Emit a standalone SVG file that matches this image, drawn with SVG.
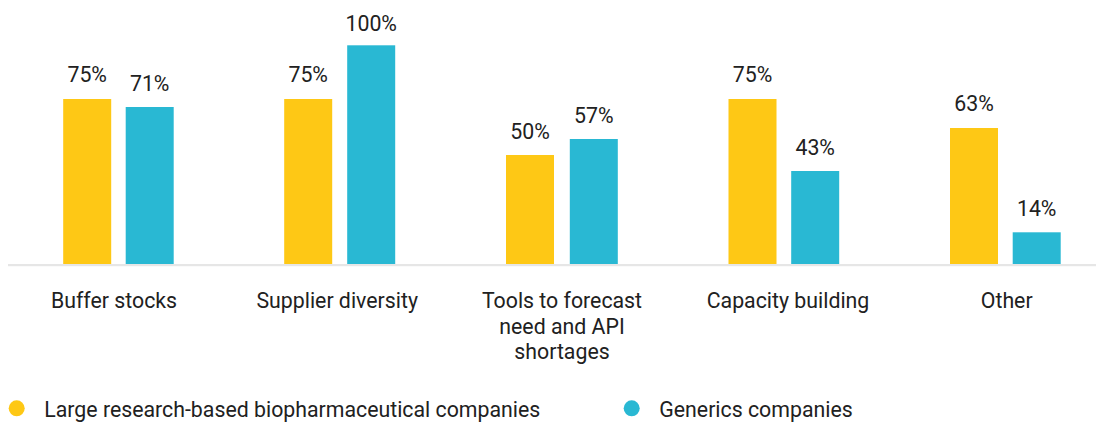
<svg xmlns="http://www.w3.org/2000/svg" width="1103" height="423" viewBox="0 0 1103 423">
<style>
text{font-family:Roboto,"Liberation Sans",sans-serif;font-size:21.3px;fill:#212121}
.v{text-anchor:middle}
.c{text-anchor:middle}
.y{fill:#FEC815}
.b{fill:#29B8D3}
</style>
<rect width="1103" height="423" fill="#fff"/>
<rect x="8" y="264" width="1088" height="2.2" fill="#e6e6e6"/>
<g id="buffer-stocks">
<rect class="y" x="63.2" y="99" width="48" height="165"/>
<rect class="b" x="125.7" y="107" width="48" height="157"/>
<text class="v" x="87.2" y="82">75%</text>
<text class="v" x="149.7" y="90.5">71%</text>
<text class="c" x="114" y="308">Buffer stocks</text>
</g>
<g id="supplier-diversity">
<rect class="y" x="284.2" y="99" width="48" height="165"/>
<rect class="b" x="347.2" y="45.3" width="48" height="218.7"/>
<text class="v" x="308.2" y="82">75%</text>
<text class="v" x="371.2" y="30.5">100%</text>
<text class="c" x="337.2" y="308">Supplier diversity</text>
</g>
<g id="tools-to-forecast">
<rect class="y" x="506" y="155" width="48" height="109"/>
<rect class="b" x="569.8" y="139" width="48" height="125"/>
<text class="v" x="530" y="138.5">50%</text>
<text class="v" x="593.8" y="122.5">57%</text>
<text class="c" x="562" y="308">Tools to forecast</text>
<text class="c" x="562" y="333.5">need and API</text>
<text class="c" x="562" y="359">shortages</text>
</g>
<g id="capacity-building">
<rect class="y" x="728.5" y="99" width="48" height="165"/>
<rect class="b" x="791.2" y="171" width="48" height="93"/>
<text class="v" x="752.5" y="82">75%</text>
<text class="v" x="815.2" y="155">43%</text>
<text class="c" x="788" y="308">Capacity building</text>
</g>
<g id="other">
<rect class="y" x="950" y="128" width="48" height="136"/>
<rect class="b" x="1012.7" y="232.3" width="48" height="31.7"/>
<text class="v" x="974" y="111">63%</text>
<text class="v" x="1036.7" y="215.5">14%</text>
<text class="c" x="1006.7" y="308">Other</text>
</g>
<g id="legend">
<circle class="y" cx="16.7" cy="408.3" r="8"/>
<text x="44.3" y="416.5">Large research-based biopharmaceutical companies</text>
<circle class="b" cx="631.7" cy="408.3" r="8"/>
<text x="659.3" y="416.5">Generics companies</text>
</g>
<g id="connectors"/>
</svg>
